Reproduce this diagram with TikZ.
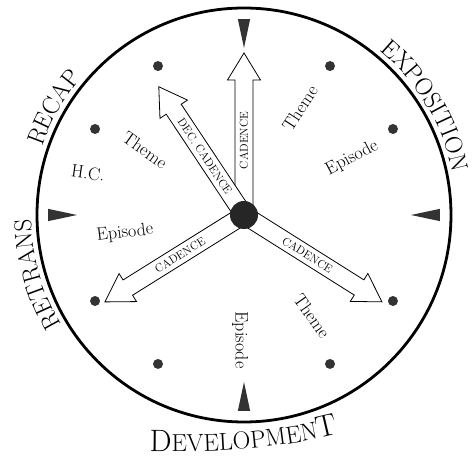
\documentclass[tikz,border=0pt]{standalone}
\usetikzlibrary{decorations.text}
\newcommand{\rimfont}{\fontsize{24.5}{26}\selectfont}
\newcommand{\bigrim}{\fontsize{31}{33}\selectfont}
\begin{document}
\begin{tikzpicture}[x=1pt,y=1pt,
    dot/.style={circle,fill=black!80,inner sep=0pt,minimum size=10pt},
    lbl/.style={font=\fontsize{18}{20}\selectfont,inner sep=0pt},
    cad/.style={font=\fontsize{11.5}{12}\selectfont,inner sep=0pt},
    rim/.style={decorate,decoration={text along path,text align=center,
        text={#1}}}]
  \useasboundingbox (-244,-247) rectangle (228,215);
  \coordinate (O) at (0,0);
  \draw[line width=2.8pt] (O) circle[radius=207];
  % clock marks
  \foreach \a in {0,90,180,270}
    \fill[black!80] (\a:167) -- (\a+1.8:196) -- (\a-1.8:196) -- cycle;
  \foreach \h in {1,2,4,5,7,8,10,11}
    \node[dot] (d\h) at ({90-30*\h}:172) {};
  % block arrows out of the hub
  \foreach \a/\len/\lab/\rot in {90/162/CADENCE/90,
      123.6/154/DEC.\ CADENCE/-56.4, 212/164/CADENCE/32,
      -32.2/163/CADENCE/-32.2}
  {
    \begin{scope}[shift={(O)},rotate=\a]
      \draw[line width=0.8pt,fill=white] (0,-9) -- (\len-27,-9)
        -- (\len-27,-16.5) -- (\len,0) -- (\len-27,16.5) -- (\len-27,9)
        -- (0,9) -- cycle;
      \node[cad,rotate=\rot] at ({(\len-13)/2},0) {\lab};
    \end{scope}
  }
  \node[circle,fill=black!85,inner sep=0pt,minimum size=28pt] (hub) at (O) {};
  % inner labels
  \node[lbl,rotate=-35] (theme1) at (-99,65) {Theme};
  \node[lbl,rotate=-8] (hc) at (-156,42) {H.C.};
  \node[lbl,rotate=7] (epi1) at (-119,-18) {Episode};
  \node[lbl,rotate=57] (theme2) at (56,107) {Theme};
  \node[lbl,rotate=28] (epi2) at (108,57) {Episode};
  \node[lbl,rotate=-55] (theme3) at (68,-101) {Theme};
  \node[lbl,rotate=-90] (epi3) at (-4,-125) {Episode};
  % names round the rim
  \path[rim={|\rimfont|EXPOSITION}] (55:213) arc[start angle=55,end angle=7,radius=213];
  \path[rim={|\rimfont|RECAP}] (170:213) arc[start angle=170,end angle=131,radius=213];
  \path[rim={|\rimfont|RETRANS}] (215:213) arc[start angle=215,end angle=177,radius=213];
  \path[rim={|\bigrim|D|\rimfont|EVELOPMEN|\bigrim|T}]
    (-112,-236) .. controls (-40,-238) and (40,-236) .. (112,-214);
\end{tikzpicture}
\end{document}
